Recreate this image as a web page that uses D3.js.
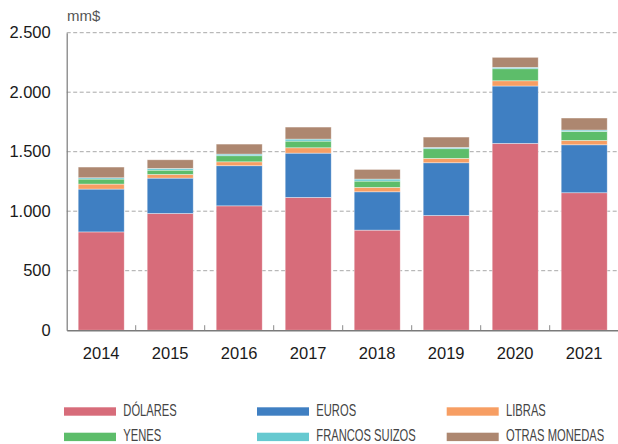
<!DOCTYPE html>
<html><head><meta charset="utf-8">
<script src="https://cdn.jsdelivr.net/npm/d3@7"></script>
<style>body{margin:0;background:#fff}svg{display:block}</style>
</head><body>
<svg id="c" width="618" height="444"></svg>
<script>
const years = ["2014","2015","2016","2017","2018","2019","2020","2021"];
const seriesNames = ["DÓLARES","EUROS","LIBRAS","YENES","FRANCOS SUIZOS","OTRAS MONEDAS"];
const dolares = [826, 981, 1045, 1116, 841, 964, 1570, 1155];
const euros   = [360, 297, 337, 372, 322, 443, 482, 403];
const libras  = [42, 31, 33, 45, 37, 37, 44, 37];
const yenes   = [42, 36, 51, 56, 53, 81, 101, 76];
const francos = [11, 15, 14, 17, 17, 11, 12, 11];
const otras   = [90, 72, 84, 101, 81, 87, 84, 101];
const yTicks = [0, 500, 1000, 1500, 2000, 2500];
const colors = ["#d76c7a","#3f7fc2","#f79e63","#5dbd6a","#66c9d0","#ad8770"];

const seriesVals = [dolares, euros, libras, yenes, francos, otras];
const rows = years.map((y,i)=>{const r={year:y}; seriesNames.forEach((s,k)=>r[s]=seriesVals[k][i]); return r;});
const stack = d3.stack().keys(seriesNames)(rows);

const svg = d3.select("#c");
const x0 = 66.7, x1 = 618.7, yTop = 32.7, yBot = 330.2;
const x = d3.scaleBand().domain(years).range([x0, x1]).paddingInner(0.333).paddingOuter(0.1665);
const y = d3.scaleLinear().domain([0, 2500]).range([yBot, yTop]);
const fmt = d => d3.format(",")(d).replace(/,/g, ".");

// gridlines
svg.append("g").selectAll("line").data(yTicks.filter(t=>t>0)).join("line")
  .attr("x1", x0).attr("x2", 617).attr("y1", d=>y(d)).attr("y2", d=>y(d))
  .attr("stroke", "#a8a8a8").attr("stroke-width", 1).attr("stroke-dasharray", "4,2.5");

// bars
svg.append("g").selectAll("g").data(stack).join("g")
  .attr("fill", (d,i)=>colors[i])
  .selectAll("rect").data(d=>d).join("rect")
  .attr("x", d=>x(d.data.year)).attr("width", x.bandwidth())
  .attr("y", d=>y(d[1])).attr("height", d=>y(d[0])-y(d[1]))
  .attr("stroke", "rgba(255,255,255,0.55)").attr("stroke-width", 0.7);

// y axis
const ya = svg.append("g").attr("transform", `translate(${x0},0)`)
  .call(d3.axisLeft(y).tickValues(yTicks).tickFormat(fmt).tickSize(0).tickPadding(16));
ya.select(".domain").attr("stroke", "#7a7a7a").attr("stroke-width", 1.2);
ya.selectAll("text").attr("font-family", "Liberation Sans, Arial, sans-serif").attr("font-size", 16.5).attr("fill", "#1a1a1a");

// x axis
const xa = svg.append("g").attr("transform", `translate(0,${yBot})`)
  .call(d3.axisBottom(x).tickSize(0).tickPadding(17));
xa.select(".domain").attr("stroke", "#7a7a7a").attr("stroke-width", 1.5);
xa.selectAll("text").attr("font-family", "Liberation Sans, Arial, sans-serif").attr("font-size", 16.5).attr("fill", "#1a1a1a");
// small ticks at band boundaries
svg.append("g").selectAll("line").data(years.slice(1)).join("line")
  .attr("x1", d=>x(d)-x.step()*x.paddingInner()/2).attr("x2", d=>x(d)-x.step()*x.paddingInner()/2)
  .attr("y1", yBot).attr("y2", yBot-5).attr("stroke", "#8a8a8a").attr("stroke-width", 1);

// unit label
svg.append("text").attr("x", 67).attr("y", 21).text("mm$")
  .attr("font-family", "Liberation Sans, Arial, sans-serif").attr("font-size", 15).attr("fill", "#555");

// legend
const colX = [64, 257, 446.7], rowY = [407.3, 432.7];
const lg = svg.append("g").selectAll("g").data(seriesNames).join("g")
  .attr("transform", (d,i)=>`translate(${colX[i%3]},${rowY[Math.floor(i/3)]})`);
lg.append("rect").attr("width", 52).attr("height", 8.4).attr("fill", (d,i)=>colors[i]);
lg.append("text").attr("transform", "translate(59.3,8.4) scale(0.7,1)").text(d=>d)
  .attr("font-family", "Liberation Sans, Arial, sans-serif").attr("font-size", 16).attr("fill", "#444");
</script>
</body></html>
